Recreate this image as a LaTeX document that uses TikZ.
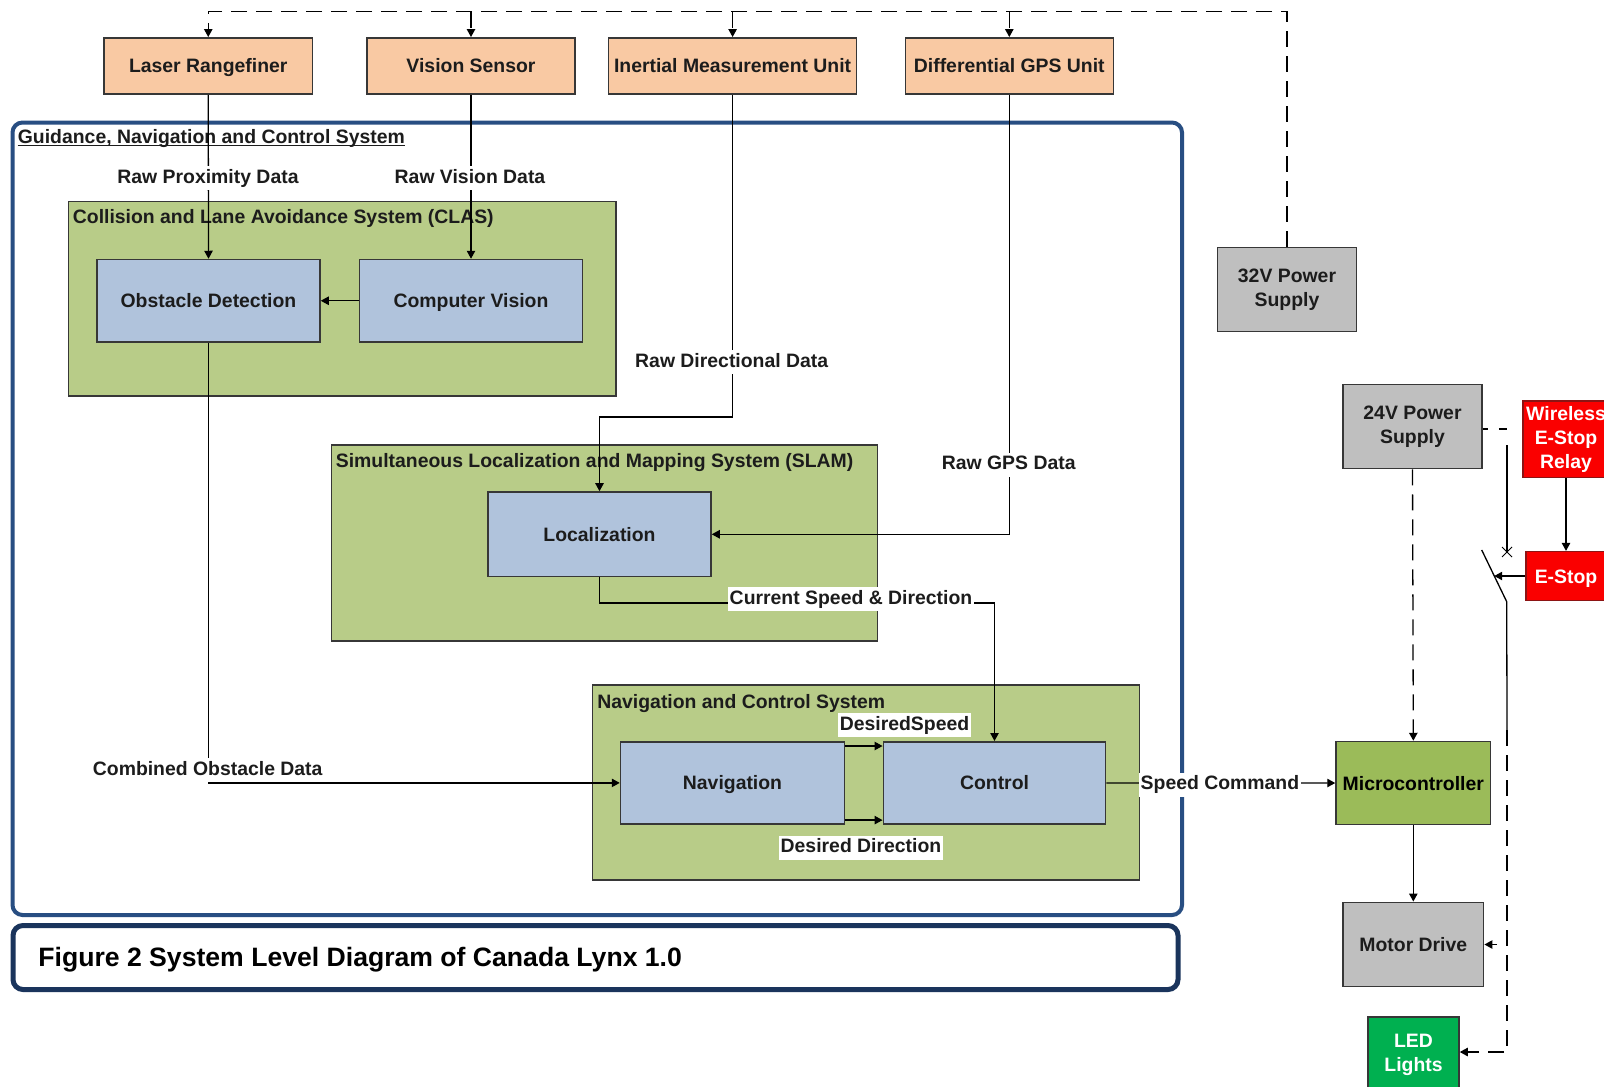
\documentclass[tikz,border=0pt]{standalone}
\usepackage{fontspec}
\setmainfont{Liberation Sans}
\usetikzlibrary{arrows.meta,calc}

\definecolor{txt}{RGB}{28,28,28}
\definecolor{edge}{RGB}{55,55,55}
\definecolor{peach}{RGB}{249,201,163}
\definecolor{grayfill}{RGB}{191,191,191}
\definecolor{redfill}{RGB}{250,0,0}
\definecolor{rededge}{RGB}{140,20,20}
\definecolor{microfill}{RGB}{155,187,89}
\definecolor{ledfill}{RGB}{0,176,80}
\definecolor{groupfill}{RGB}{184,204,136}
\definecolor{unitfill}{RGB}{176,195,220}
\definecolor{frameblue}{RGB}{40,78,130}
\definecolor{capblue}{RGB}{26,52,92}

\begin{document}
\begin{tikzpicture}[x=0.5pt,y=-0.5pt,
  every node/.style={font=\fontsize{9.7}{12}\selectfont\bfseries, text=txt},
  box/.style={draw=edge, line width=0.75pt, inner sep=0pt, align=center},
  oneline/.style={text height=7pt, text depth=0pt},
  sensor/.style={box, oneline, fill=peach, minimum height=28.2pt},
  group/.style={draw=edge, line width=0.75pt, fill=groupfill, inner sep=0pt},
  unit/.style={box, oneline, fill=unitfill},
  power/.style={box, fill=grayfill},
  alarm/.style={box, draw=rededge, fill=redfill, text=white},
  title/.style={anchor=base west, inner sep=0pt},
  lbl/.style={fill=white, inner xsep=1pt, inner ysep=1.5pt, text height=7pt, text depth=2pt},
  conn/.style={line width=0.65pt, draw=black, -{Triangle[length=4pt,width=4.2pt]}},
  wire/.style={line width=0.65pt, draw=black},
  dsh/.style={dash pattern=on 8pt off 4.5pt}
]
\path[use as bounding box] (0,0) rectangle (1604,1086);
\clip (0,0) rectangle (1604,1086);
\fill[white] (0,0) rectangle (1604,1086);

% outer frame of the guidance, navigation and control system
\node[draw=frameblue, line width=2pt, rounded corners=5pt, inner sep=0pt,
      minimum width=584.75pt, minimum height=396.25pt] (gnc) at (597.25,518.75) {};
\node[title] (gnctitle) at (17.5,143) {Guidance, Navigation and Control System};
\draw[line width=0.6pt, txt] ($(gnctitle.base west)+(0,2.5)$) -- ($(gnctitle.base east)+(0,2.5)$);

% caption box
\node[draw=capblue, line width=2.5pt, rounded corners=5pt, inner sep=0pt,
      minimum width=582.5pt, minimum height=32pt] (capbox) at (595.5,957.5) {};
\node[title, font=\fontsize{13.3}{16}\selectfont\bfseries, text=black] (captext) at (38,966)
  {Figure 2 System Level Diagram of Canada Lynx 1.0};

% subsystem containers
\node[group, minimum width=273.75pt, minimum height=97.25pt] (clas) at (342.25,298.75) {};
\node[title] (clastitle) at (72.5,223.5) {Collision and Lane Avoidance System (CLAS)};
\node[group, minimum width=273pt, minimum height=98.1pt] (slam) at (604.5,543.1) {};
\node[title] (slamtitle) at (335.5,467.5) {Simultaneous Localization and Mapping System (SLAM)};
\node[group, minimum width=273.5pt, minimum height=97.4pt] (ncs) at (866,782.6) {};
\node[title] (ncstitle) at (597,708.5) {Navigation and Control System};

% sensors
\node[sensor, minimum width=104.25pt] (laser) at (208.25,66) {Laser Rangefiner};
\node[sensor, minimum width=104pt] (vision) at (471,66) {Vision Sensor};
\node[sensor, minimum width=124pt] (imu) at (732.6,66) {Inertial Measurement Unit};
\node[sensor, minimum width=104pt] (dgps) at (1009.3,66) {Differential GPS Unit};

% processing units
\node[unit, minimum width=111.5pt, minimum height=41.25pt] (od) at (208.5,300.75) {Obstacle Detection};
\node[unit, minimum width=111.5pt, minimum height=41.25pt] (cv) at (471,300.75) {Computer Vision};
\node[unit, minimum width=111.5pt, minimum height=42.35pt] (loc) at (599.5,534.3) {Localization};
\node[unit, minimum width=112pt, minimum height=41.15pt] (nav) at (732.5,782.9) {Navigation};
\node[unit, minimum width=111.2pt, minimum height=41.15pt] (ctrl) at (994.5,782.9) {Control};

% power and drive hardware
\node[power, minimum width=69.5pt, minimum height=42pt] (p32) at (1287,289.5) {32V Power\\Supply};
\node[power, minimum width=69.5pt, minimum height=42pt] (p24) at (1412.5,426.5) {24V Power\\Supply};
\node[alarm, minimum width=43pt, minimum height=38.35pt] (relay) at (1566,439.3) {Wireless\\E-Stop\\Relay};
\node[alarm, oneline, minimum width=40pt, minimum height=24.35pt] (estop) at (1566,576) {E-Stop};
\node[box, oneline, fill=microfill, text=black, minimum width=77.3pt, minimum height=41.5pt] (micro) at (1413.3,783) {Microcontroller};
\node[power, oneline, minimum width=70.35pt, minimum height=42.2pt] (motor) at (1413.3,944.5) {Motor Drive};
\node[box, fill=ledfill, text=white, minimum width=45.5pt, minimum height=38pt] (led) at (1413.5,1055) {LED\\Lights};

% 32 V supply bus to the sensors
\coordinate (bus) at (1287,11.7);
\draw[conn, dsh] (p32.north) -- (bus) -| (laser.north);
\draw[conn, dsh] (vision.north |- bus) -- (vision.north);
\draw[conn, dsh] (imu.north |- bus) -- (imu.north);
\draw[conn, dsh] (dgps.north |- bus) -- (dgps.north);

% data flow
\coordinate (dirturn) at (0,417);
\coordinate (csd) at (994.5,603);
\draw[conn] (laser.south) -- (od.north);
\draw[conn] (vision.south) -- (cv.north);
\draw[conn] (cv.west) -- (od.east);
\draw[conn] (imu.south) -- (imu.south |- dirturn) -| (loc.north);
\draw[conn] (dgps.south) |- (loc.east);
\draw[conn] (loc.south) |- (csd) -- (ctrl.north);
\draw[conn] (od.south) |- (nav.west);
\draw[conn] ($(nav.north east)+(0,5)$) -- ($(ctrl.north west)+(0,5)$);
\draw[conn] ($(nav.south east)+(0,-4.7)$) -- ($(ctrl.south west)+(0,-4.7)$);
\draw[conn] (ctrl.east) -- (micro.west) node[lbl, pos=0.496, yshift=-1pt] {Speed Command};

% power and emergency stop circuit
\draw[conn, dsh] (p24.south) -- (micro.north);
\draw[conn] (micro.south) -- (motor.north);
\draw[conn] (relay.south) -- (estop.north);
\coordinate (swfeed) at (1507,429);
\coordinate (swin) at (1507,445);
\coordinate (contact) at (1507,552);
\coordinate (swtop) at (1481.7,550);
\coordinate (swbot) at (1506.7,601.7);
\coordinate (swout) at (1507,730);
\coordinate (swmid) at ($(swtop)!0.5!(swbot)$);
\coordinate (ledin) at ($(led.east)+(0,-3)$);
\draw[wire, dash pattern=on 2.5pt off 5.5pt on 4.5pt off 0pt] (p24.east |- swfeed) -- (swfeed);
\draw[wire] (swin) -- (contact);
\draw[line width=0.5pt] ($(contact)+(-5,-5)$) -- ($(contact)+(5,5)$)
                        ($(contact)+(5,-5)$) -- ($(contact)+(-5,5)$);
\draw[wire] (swtop) -- (swbot) -- (swout);
\draw[conn] (estop.west) -- (estop.west -| swmid);
\draw[conn, dsh] (swout) |- (ledin);
\draw[conn, dash pattern=on 6pt off 5pt, dash phase=6pt] (swout |- motor.east) -- (motor.east);

% connector labels
\node[lbl] at (208,178) {Raw Proximity Data};
\node[lbl] at (470,178) {Raw Vision Data};
\node[lbl] at (731.7,362) {Raw Directional Data};
\node[lbl] at (1008.7,464.5) {Raw GPS Data};
\node[lbl] at (851,599) {Current Speed \& Direction};
\node[lbl] at (904.5,725.3) {DesiredSpeed};
\node[lbl] at (861,847.7) {Desired Direction};
\node[lbl] at (207.7,770.3) {Combined Obstacle Data};
\end{tikzpicture}
\end{document}
